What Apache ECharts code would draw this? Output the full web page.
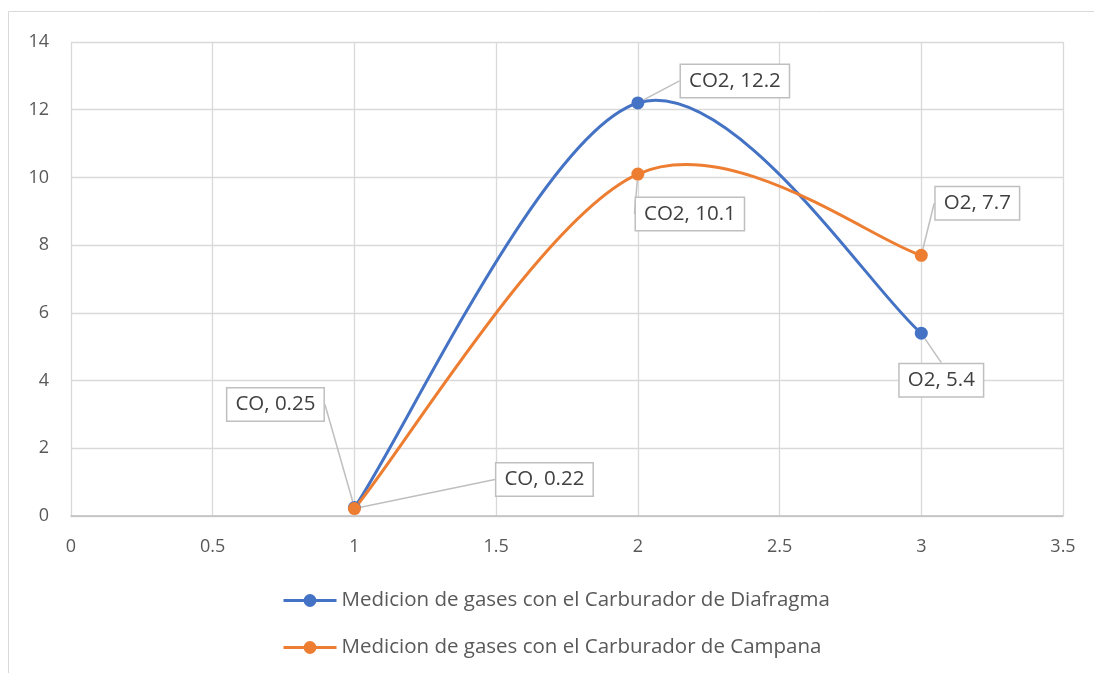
<!DOCTYPE html>
<html>
<head>
<meta charset="utf-8">
<script src="https://cdn.jsdelivr.net/npm/echarts@6/dist/echarts.min.js"></script>
<style>html,body{margin:0;padding:0;background:#fff}#c{width:1094px;height:673px}</style>
</head>
<body>
<div id="c"></div>
<script>
var gasNames = ['CO', 'CO2', 'O2'];
var xValues = [1, 2, 3];
var diafragma = [0.25, 12.2, 5.4];
var campana = [0.22, 10.1, 7.7];
var seriesNames = ['Medicion de gases con el Carburador de Diafragma', 'Medicion de gases con el Carburador de Campana'];
var xTicks = [0, 0.5, 1, 1.5, 2, 2.5, 3, 3.5];
var yTicks = [0, 2, 4, 6, 8, 10, 12, 14];

var FONT = '"Open Sans", "Noto Sans", sans-serif';
var BLUE = '#4472C4', ORANGE = '#ED7D31';
var chart = echarts.init(document.getElementById('c'));

// label offsets (px) from each point
var offDia = [[-79, -103], [97, -22], [20, 47]];
var offCam = [[190, -29], [52, 40], [56, -52]];

function pairs(vals) { return xValues.map(function (x, i) { return [x, vals[i]]; }); }

// Spreadsheet-style smoothed curve (Bezier through the points), drawn from the data via axis coords
function curveSeries(vals, color) {
  var data = pairs(vals);
  return {
    type: 'custom',
    data: data,
    encode: { x: 0, y: 1 },
    z: 2,
    silent: true,
    renderItem: function (params, api) {
      var i = params.dataIndex;
      var n = data.length;
      if (i >= n - 1) return null;
      var P = data.map(function (d) { return api.coord(d); });
      var p0 = P[Math.max(i - 1, 0)], p1 = P[i], p2 = P[i + 1], p3 = P[Math.min(i + 2, n - 1)];
      return {
        type: 'bezierCurve',
        shape: {
          x1: p1[0], y1: p1[1],
          cpx1: p1[0] + (p2[0] - p0[0]) / 6, cpy1: p1[1] + (p2[1] - p0[1]) / 6,
          cpx2: p2[0] - (p3[0] - p1[0]) / 6, cpy2: p2[1] - (p3[1] - p1[1]) / 6,
          x2: p2[0], y2: p2[1]
        },
        style: { fill: 'none', stroke: color, lineWidth: 3, lineCap: 'round' }
      };
    }
  };
}

function markerSeries(name, vals, color, offs) {
  return {
    name: name,
    type: 'line',
    data: pairs(vals),
    symbol: 'circle',
    symbolSize: 13,
    lineStyle: { color: color, width: 3, opacity: 0 },
    itemStyle: { color: color },
    label: {
      show: true,
      position: 'inside',
      formatter: function (p) { return gasNames[p.dataIndex] + ', ' + p.value[1]; },
      color: '#404040',
      fontFamily: FONT,
      fontSize: 20.5,
      backgroundColor: '#fff',
      borderColor: '#bfbfbf',
      borderWidth: 1.5,
      padding: [6, 8, 5, 8]
    },
    labelLine: { show: true, lineStyle: { color: '#bfbfbf', width: 1.5 } },
    labelLayout: function (params) {
      var o = offs[params.dataIndex];
      return { dx: o[0], dy: o[1] };
    },
    emphasis: { disabled: true },
    z: 3
  };
}

chart.setOption({
  animation: false,
  backgroundColor: '#fff',
  graphic: [{
    type: 'rect',
    shape: { x: 8.5, y: 11.5, width: 1200, height: 800 },
    style: { fill: 'none', stroke: '#d9d9d9', lineWidth: 1 },
    silent: true
  }],
  grid: { left: 71, right: 31, top: 42, bottom: 157, containLabel: false },
  xAxis: {
    type: 'value',
    min: xTicks[0], max: xTicks[xTicks.length - 1], interval: 0.5,
    axisLine: { show: true, lineStyle: { color: '#bfbfbf', width: 1.5 } },
    axisTick: { show: false },
    splitLine: { show: true, lineStyle: { color: '#d9d9d9', width: 1.3 } },
    axisLabel: { color: '#595959', fontFamily: FONT, fontSize: 18, margin: 22 }
  },
  yAxis: {
    type: 'value',
    min: yTicks[0], max: yTicks[yTicks.length - 1], interval: 2,
    axisLine: { show: false },
    axisTick: { show: false },
    splitLine: { show: true, lineStyle: { color: '#d9d9d9', width: 1.3 } },
    axisLabel: { color: '#595959', fontFamily: FONT, fontSize: 18, margin: 22 }
  },
  legend: {
    orient: 'vertical',
    left: 277, top: 585,
    padding: 5,
    itemWidth: 53, itemHeight: 16,
    itemGap: 26,
    textStyle: { color: '#595959', fontFamily: FONT, fontSize: 20.5 },
    data: [
      { name: seriesNames[0], lineStyle: { opacity: 1, width: 3 } },
      { name: seriesNames[1], lineStyle: { opacity: 1, width: 3 } }
    ]
  },
  series: [
    curveSeries(diafragma, BLUE),
    curveSeries(campana, ORANGE),
    markerSeries(seriesNames[0], diafragma, BLUE, offDia),
    markerSeries(seriesNames[1], campana, ORANGE, offCam)
  ]
});
</script>
</body>
</html>
